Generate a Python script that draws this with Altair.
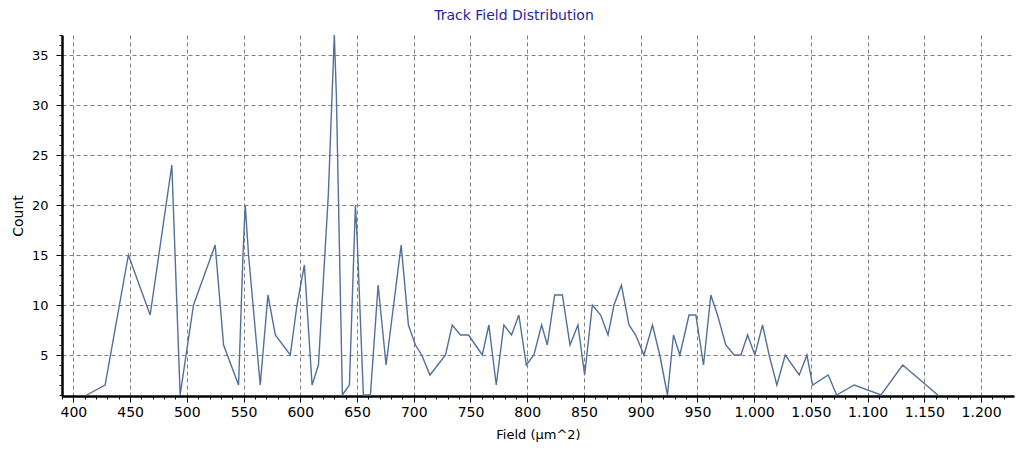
import altair as alt
import pandas as pd

# Data
field = [411.8, 428, 448.5, 467.7, 486.8, 494.1, 505.9, 525, 532.4, 545.6, 549.5, 551.5, 554.4,
         564.7, 571.5, 578, 591.2, 597.1, 603.6, 610.4, 616, 624.7, 630, 631.8, 637.1, 643.3,
         648.6, 650, 655.6, 661.8, 668.6, 675.6, 688.9, 695.3, 701.5, 707, 714.3, 728, 733.9,
         741.2, 748.3, 760.4, 766.2, 772.7, 779.4, 786.2, 792.6, 799.2, 805.9, 812.7, 817.7,
         824.2, 831, 837.7, 844.7, 850.6, 857.4, 864.7, 871.2, 876.5, 883, 889.7, 895.6, 902.9,
         910.4, 916.8, 923.6, 928.9, 934.5, 942.6, 948.6, 955.4, 961.8, 967.7, 975, 982.4,
         988.3, 994.2, 1000.6, 1007.4, 1013.2, 1020, 1027.4, 1039.7, 1046.5, 1051.5, 1065.3,
         1072.7, 1088.2, 1111.8, 1130.9, 1161.8]
count = [1, 2, 15, 9, 24, 1, 10, 16, 6, 2, 15, 20, 15,
         2, 11, 7, 5, 10, 14, 2, 4, 21, 37, 31, 1, 2,
         20, 17, 1, 1, 12, 4, 16, 8, 6, 5, 3, 5, 8,
         7, 7, 5, 8, 2, 8, 7, 9, 4, 5, 8, 6,
         11, 11, 6, 8, 3, 10, 9, 7, 10, 12, 8, 7, 5,
         8, 5, 1, 7, 5, 9, 9, 4, 11, 9, 6, 5,
         5, 7, 5, 8, 5, 2, 5, 3, 5, 2, 3,
         1, 2, 1, 4, 1]

x_major = list(range(400, 1201, 50))
x_minor = list(range(390, 1230, 10))
y_major = [5, 10, 15, 20, 25, 30, 35]
y_minor = list(range(1, 38))

df = pd.DataFrame({"field": field, "count": count})

FONT = "DejaVu Sans"
xscale = alt.Scale(domain=[390, 1229], nice=False, zero=False)
yscale = alt.Scale(domain=[0.9, 37], nice=False, zero=False)
lab = "replace(format(datum.value, ',d'), ',', '.')"

main = alt.Chart(df).mark_line(color="#52709a", strokeWidth=1.4, clip=True).encode(
    x=alt.X("field:Q", scale=xscale, axis=alt.Axis(
        values=x_major, labelExpr=lab, title="Field (µm^2)", orient="bottom",
        grid=True, gridDash=[4, 3], gridColor="#808080", gridWidth=1,
        domainColor="black", domainWidth=2.5, tickColor="black", tickSize=6, tickWidth=1,
        labelFont=FONT, labelFontSize=14, labelColor="black", labelPadding=3,
        titleFont=FONT, titleFontSize=13, titleFontWeight="normal", titleColor="black",
        titlePadding=9)),
    y=alt.Y("count:Q", scale=yscale, axis=alt.Axis(
        values=y_major, title="Count", orient="left",
        grid=True, gridDash=[4, 3], gridColor="#808080", gridWidth=1,
        domainColor="black", domainWidth=2.5, tickColor="black", tickSize=6, tickWidth=1,
        labelFont=FONT, labelFontSize=13, labelColor="black", labelPadding=8,
        titleFont=FONT, titleFontSize=14, titleFontWeight="normal", titleColor="black",
        titlePadding=6)),
)

minor = alt.Chart(df).mark_line(opacity=0).encode(
    x=alt.X("field:Q", scale=xscale, axis=alt.Axis(
        values=x_minor, labels=False, title=None, grid=False, domain=False,
        tickSize=3, tickColor="black", orient="bottom")),
    y=alt.Y("count:Q", scale=yscale, axis=alt.Axis(
        values=y_minor, labels=False, title=None, grid=False, domain=False,
        tickSize=3, tickColor="black", orient="left")),
)

chart = alt.layer(minor, main).resolve_axis(x="independent", y="independent").properties(
    width=952, height=361,
    title=alt.TitleParams("Track Field Distribution", font=FONT, fontSize=14,
                          fontWeight="normal", color="#2626a0", anchor="middle",
                          dx=-24, offset=12),
    autosize=alt.AutoSizeParams(type="none"),
    padding={"left": 54, "top": 27, "right": 3, "bottom": 48},
).configure_view(strokeWidth=0)

chart.save("out.html", embed_options={"renderer": "svg", "actions": False})
